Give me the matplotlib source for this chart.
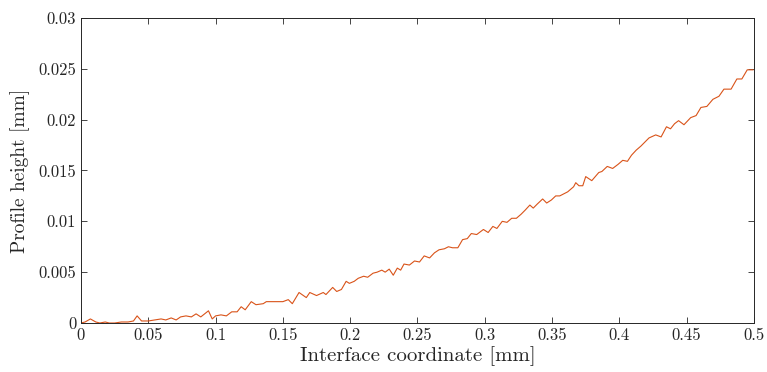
import numpy as np
import matplotlib
matplotlib.use("Agg")
import matplotlib.pyplot as plt

plt.rcParams["font.family"] = "serif"
plt.rcParams["font.serif"] = ["cmr10", "DejaVu Serif"]
plt.rcParams["mathtext.fontset"] = "cm"
plt.rcParams["axes.formatter.use_mathtext"] = True

# interface coordinate [mm] and measured profile height [mm]
coord = [0.000, 0.003, 0.007, 0.011, 0.014, 0.018, 0.021, 0.025, 0.030, 0.035,
         0.039, 0.0417, 0.045, 0.050, 0.055, 0.0595, 0.063, 0.067, 0.0707, 0.074,
         0.078, 0.082, 0.0855, 0.089, 0.0947, 0.0975, 0.100, 0.104, 0.108, 0.112,
         0.116, 0.119, 0.122, 0.1265, 0.130, 0.1354, 0.1377, 0.143, 0.150, 0.154,
         0.157, 0.162, 0.1674, 0.170, 0.175, 0.180, 0.182, 0.187, 0.190, 0.1935,
         0.197, 0.1994, 0.203, 0.206, 0.210, 0.213, 0.217, 0.220, 0.2235, 0.226,
         0.229, 0.232, 0.235, 0.2375, 0.240, 0.244, 0.2478, 0.2515, 0.255, 0.259,
         0.2626, 0.266, 0.270, 0.273, 0.276, 0.280, 0.2835, 0.287, 0.290, 0.294,
         0.299, 0.3025, 0.306, 0.309, 0.313, 0.3165, 0.320, 0.3235, 0.327, 0.330,
         0.3335, 0.336, 0.339, 0.343, 0.346, 0.3495, 0.3527, 0.3557, 0.3586, 0.3616,
         0.366, 0.3676, 0.370, 0.3728, 0.375, 0.3795, 0.3847, 0.387, 0.391, 0.395,
         0.399, 0.4025, 0.406, 0.409, 0.4125, 0.416, 0.419, 0.422, 0.427, 0.431,
         0.435, 0.438, 0.441, 0.444, 0.448, 0.453, 0.457, 0.4606, 0.465, 0.4695,
         0.474, 0.4777, 0.483, 0.4873, 0.491, 0.495, 0.4993]
height = [0.0000, 0.0001, 0.0004, 0.0001, 0.0000, 0.0001, 0.0000, 0.0000, 0.0001, 0.0001,
          0.0002, 0.0007, 0.0002, 0.0002, 0.0003, 0.0004, 0.0003, 0.0005, 0.0003, 0.0006,
          0.0007, 0.0006, 0.0009, 0.0006, 0.0012, 0.0004, 0.0007, 0.0008, 0.0007, 0.0011,
          0.0011, 0.0016, 0.0013, 0.0021, 0.0018, 0.0019, 0.0021, 0.0021, 0.0021, 0.0023,
          0.0019, 0.0030, 0.0025, 0.0030, 0.0027, 0.0030, 0.0028, 0.0035, 0.0031, 0.0033,
          0.0041, 0.0039, 0.0041, 0.0044, 0.0046, 0.0045, 0.0049, 0.0050, 0.0052, 0.0050,
          0.0053, 0.0047, 0.0054, 0.0052, 0.0058, 0.0057, 0.0061, 0.0060, 0.0066, 0.0064,
          0.0069, 0.0072, 0.0073, 0.0075, 0.0074, 0.0074, 0.0082, 0.0083, 0.0088, 0.0087,
          0.0092, 0.0089, 0.0095, 0.0093, 0.0100, 0.0099, 0.0103, 0.0103, 0.0107, 0.0111,
          0.0116, 0.0113, 0.0117, 0.0122, 0.0118, 0.0121, 0.0125, 0.0125, 0.0127, 0.0129,
          0.0134, 0.0138, 0.0135, 0.0135, 0.0144, 0.0140, 0.0148, 0.0149, 0.0154, 0.0152,
          0.0156, 0.0160, 0.0159, 0.0165, 0.0170, 0.0174, 0.0178, 0.0182, 0.0185, 0.0183,
          0.0193, 0.0191, 0.0196, 0.0199, 0.0195, 0.0202, 0.0204, 0.0212, 0.0213, 0.0220,
          0.0223, 0.0230, 0.0230, 0.0240, 0.0240, 0.0249, 0.0249]

xticks = [0, 0.05, 0.1, 0.15, 0.2, 0.25, 0.3, 0.35, 0.4, 0.45, 0.5]
xtick_labels = ["0", "0.05", "0.1", "0.15", "0.2", "0.25", "0.3", "0.35", "0.4", "0.45", "0.5"]
yticks = [0, 0.005, 0.01, 0.015, 0.02, 0.025, 0.03]
ytick_labels = ["0", "0.005", "0.01", "0.015", "0.02", "0.025", "0.03"]

fig = plt.figure(figsize=(7.67, 3.72), dpi=100)
ax = fig.add_axes([0.1056, 0.1317, 0.8774, 0.82])

ax.plot(coord, height, color="#D95319", linewidth=0.8)

ax.set_xlim(0, 0.5)
ax.set_ylim(0, 0.03)
ax.set_xticks(xticks)
ax.set_xticklabels(xtick_labels)
ax.set_yticks(yticks)
ax.set_yticklabels(ytick_labels)
ax.tick_params(direction="in", length=4, width=0.6, top=True, right=True,
               labelsize=12, colors="#262626")
for s in ax.spines.values():
    s.set_linewidth(0.7)
    s.set_color("#262626")

ax.set_xlabel("Interface coordinate [mm]", fontsize=15, color="#262626", labelpad=2)
ax.set_ylabel("Profile height [mm]", fontsize=14, color="#262626", labelpad=6)

fig.savefig("out.png", dpi=100)
